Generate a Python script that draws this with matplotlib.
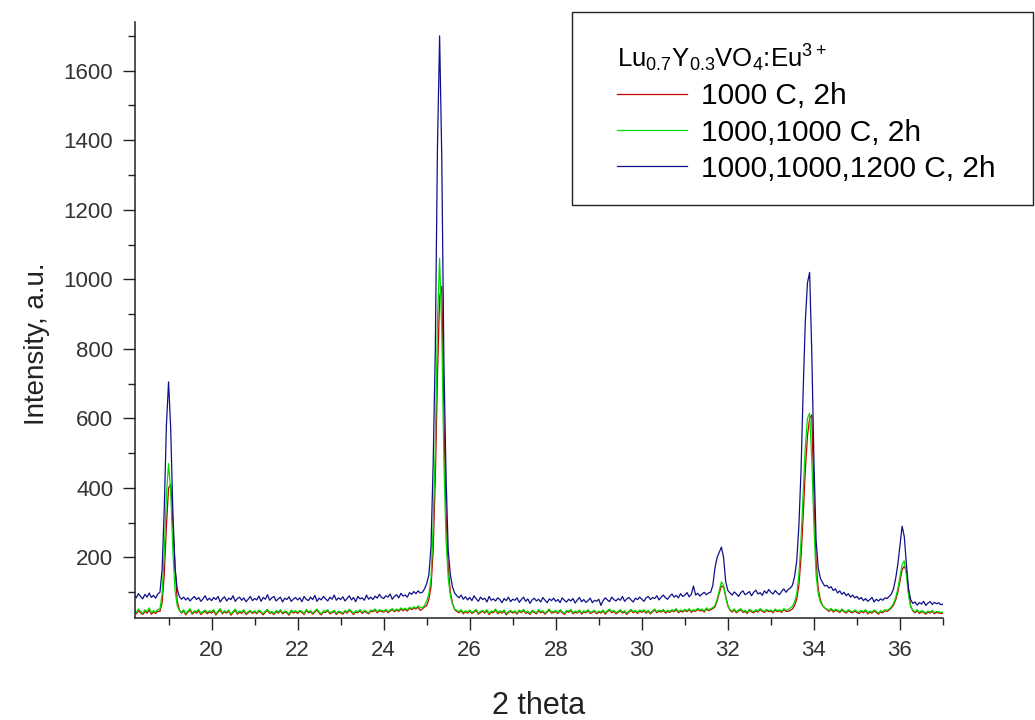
import numpy as np
import matplotlib
matplotlib.use("Agg")
import matplotlib.pyplot as plt
from matplotlib.ticker import MultipleLocator
from matplotlib.patches import Rectangle

plt.rcParams['font.family'] = ['Liberation Sans', 'DejaVu Sans']
plt.rcParams['mathtext.default'] = 'regular'

# scan grid: 18.20 .. 37.00 deg, step 0.05
two_theta = np.round(np.arange(18.20, 37.0001, 0.05), 2)

# 1000 C, 2h
i_1000 = [
    44, 38, 47, 41, 36, 45, 40, 49, 37, 43, 39, 46, 45, 70, 150, 290,
    400, 410, 300, 180, 75, 50, 40, 46, 35, 43, 49, 37, 44, 40, 47, 36, 42, 45, 38, 44,
    40, 46, 35, 43, 49, 38, 44, 40, 46, 34, 42, 48, 37, 43, 39, 47, 36, 41, 45, 39,
    44, 38, 46, 41, 35, 43, 48, 39, 42, 36, 45, 40, 47, 38, 43, 41, 34, 46, 40, 44,
    39, 45, 42, 36, 48, 41, 44, 37, 43, 49, 40, 35, 44, 42, 47, 38, 41, 45, 36, 43,
    41, 37, 45, 40, 48, 43, 36, 44, 41, 47, 39, 45, 42, 38, 46, 44, 49, 41, 47, 45,
    43, 48, 41, 46, 50, 44, 49, 45, 52, 47, 51, 46, 54, 50, 55, 52, 57, 48, 52, 58,
    62, 80, 115, 220, 430, 720, 950, 980, 600, 320, 170, 100, 68, 50, 45, 41, 47, 38, 44, 40,
    46, 39, 43, 48, 37, 42, 45, 40, 47, 36, 43, 41, 49, 38, 44, 40, 46, 35, 42, 45,
    40, 44, 37, 46, 41, 48, 39, 43, 36, 45, 42, 38, 47, 41, 44, 37, 43, 49, 40, 42,
    44, 39, 47, 41, 36, 45, 42, 48, 38, 43, 40, 46, 37, 44, 41, 47, 39, 42, 45, 38,
    43, 40, 46, 37, 44, 49, 41, 45, 38, 42, 47, 40, 44, 36, 43, 48, 41, 45, 39, 46,
    42, 47, 40, 45, 38, 44, 49, 41, 46, 43, 48, 40, 45, 42, 47, 44, 50, 41, 46, 43,
    48, 44, 50, 42, 47, 45, 51, 46, 49, 43, 52, 47, 50, 53, 58, 75, 98, 118, 115, 88,
    62, 48, 43, 49, 41, 46, 50, 42, 45, 39, 48, 44, 41, 47, 43, 50, 45, 42, 48, 44,
    46, 41, 49, 44, 47, 42, 50, 45, 45, 48, 52, 62, 80, 120, 200, 320, 450, 550, 600, 610,
    380, 190, 110, 78, 62, 55, 50, 45, 51, 43, 48, 46, 42, 49, 44, 40, 47, 43, 41, 46,
    42, 39, 45, 41, 47, 38, 43, 40, 46, 42, 37, 44, 41, 47, 45, 49, 55, 63, 78, 100,
    132, 165, 175, 160, 100, 60, 46, 41, 47, 39, 44, 42, 37, 43, 40, 45, 38, 42, 41, 39,
    40,
]

# 1000,1000 C, 2h
i_1000_1000 = [
    48, 42, 52, 45, 39, 50, 44, 55, 41, 47, 43, 51, 52, 95, 215, 380,
    470, 390, 220, 105, 62, 48, 42, 50, 38, 46, 53, 40, 47, 44, 51, 39, 45, 49, 42, 47,
    44, 50, 38, 46, 53, 41, 47, 43, 49, 37, 45, 52, 40, 46, 43, 50, 39, 44, 48, 42,
    47, 41, 49, 44, 38, 46, 51, 42, 45, 39, 48, 43, 50, 41, 46, 44, 37, 49, 43, 47,
    42, 48, 45, 39, 51, 44, 47, 40, 46, 52, 43, 38, 47, 45, 50, 41, 44, 48, 39, 46,
    44, 40, 48, 43, 51, 46, 39, 47, 44, 50, 42, 48, 45, 41, 49, 47, 52, 44, 50, 48,
    46, 51, 44, 49, 53, 47, 52, 48, 55, 50, 54, 49, 57, 53, 58, 55, 60, 57, 55, 62,
    75, 95, 140, 290, 520, 880, 1060, 850, 470, 250, 140, 90, 65, 52, 48, 44, 50, 41, 47, 43,
    49, 42, 46, 51, 40, 45, 48, 43, 50, 39, 46, 44, 52, 41, 47, 43, 49, 38, 45, 48,
    43, 47, 40, 49, 44, 51, 42, 46, 39, 48, 45, 41, 50, 44, 47, 40, 46, 52, 43, 45,
    47, 42, 50, 44, 39, 48, 45, 51, 41, 46, 43, 49, 40, 47, 44, 50, 42, 45, 48, 41,
    46, 43, 49, 40, 47, 52, 44, 48, 41, 45, 50, 43, 47, 39, 46, 51, 44, 48, 42, 49,
    45, 50, 43, 48, 41, 47, 52, 44, 49, 46, 51, 43, 48, 45, 50, 47, 53, 44, 49, 46,
    51, 47, 53, 45, 50, 48, 54, 49, 52, 46, 55, 50, 53, 56, 62, 80, 105, 130, 120, 85,
    60, 50, 46, 52, 44, 49, 53, 45, 48, 42, 51, 47, 44, 50, 46, 53, 48, 45, 51, 47,
    49, 44, 52, 47, 50, 45, 53, 48, 50, 55, 60, 72, 95, 150, 250, 390, 520, 600, 615, 480,
    290, 150, 95, 72, 62, 55, 52, 48, 54, 46, 51, 49, 45, 52, 47, 43, 50, 46, 44, 49,
    45, 42, 48, 44, 50, 41, 46, 43, 49, 45, 40, 47, 44, 50, 48, 52, 58, 68, 85, 110,
    145, 180, 190, 150, 90, 58, 48, 44, 50, 42, 47, 45, 40, 46, 43, 48, 41, 45, 44, 42,
    43,
]

# 1000,1000,1200 C, 2h
i_1000_1000_1200 = [
    92, 84, 96, 88, 81, 94, 86, 98, 85, 91, 83, 95, 100, 165, 340, 580,
    705, 570, 330, 170, 110, 88, 80, 86, 78, 84, 75, 82, 88, 79, 85, 74, 81, 90, 77, 83,
    76, 85, 79, 88, 72, 81, 87, 75, 83, 79, 90, 74, 82, 86, 77, 84, 73, 80, 88, 76,
    82, 78, 89, 74, 85, 80, 93, 77, 84, 88, 75, 81, 86, 72, 83, 79, 87, 74, 80, 85,
    78, 84, 73, 88, 80, 76, 86, 79, 91, 74, 83, 78, 88, 81, 75, 86, 80, 92, 77, 84,
    79, 87, 75, 82, 90, 78, 85, 73, 88, 81, 84, 77, 92, 80, 86, 79, 89, 83, 94, 85,
    82, 90, 86, 95, 80, 88, 93, 84, 97, 89, 92, 86, 99, 94, 102, 96, 104, 98, 100, 110,
    125, 150, 230, 470, 800, 1380, 1700, 1350, 760, 430, 220, 150, 115, 98, 90, 84, 92, 80, 87, 78,
    85, 76, 90, 81, 74, 86, 79, 83, 72, 88, 77, 81, 75, 84, 79, 70, 82, 76, 86, 73,
    80, 77, 84, 71, 79, 86, 74, 81, 68, 78, 83, 75, 80, 72, 85, 77, 70, 81, 76, 83,
    74, 79, 70, 84, 77, 72, 80, 75, 82, 69, 78, 85, 73, 79, 71, 76, 83, 70, 77, 74,
    80, 62, 76, 84, 78, 73, 86, 79, 75, 82, 77, 88, 74, 81, 85, 78, 72, 83, 79, 86,
    80, 74, 84, 88, 79, 85, 82, 90, 78, 86, 92, 84, 80, 89, 95, 86, 91, 84, 96, 88,
    92, 99, 87, 94, 118, 92, 97, 89, 95, 100, 93, 98, 100, 120, 170, 200, 215, 230, 200, 130,
    105, 98, 92, 101, 95, 88, 99, 104, 93, 97, 102, 90, 100, 106, 95, 99, 91, 104, 97, 108,
    100, 95, 105, 98, 93, 103, 110, 100, 108, 112, 120, 145, 190, 290, 450, 680, 880, 990, 1020, 790,
    480, 250, 170, 140, 128, 118, 120, 112, 116, 105, 110, 98, 104, 94, 100, 90, 96, 86, 92, 84,
    88, 80, 85, 76, 82, 74, 79, 85, 72, 80, 75, 81, 77, 84, 82, 88, 95, 110, 140, 180,
    235, 290, 260, 180, 110, 78, 68, 72, 63, 70, 66, 74, 62, 69, 73, 65, 71, 67, 70, 64,
    66,
]

labels = ['1000 C, 2h', '1000,1000 C, 2h', '1000,1000,1200 C, 2h']
colors = ['#c00000', '#00dd00', '#10108a']
legend_title = 'Lu$_{0.7}$Y$_{0.3}$VO$_{4}$:Eu$^{3+}$'

W, H = 1035, 720
fig = plt.figure(figsize=(W / 100, H / 100), dpi=100)
ax = fig.add_axes([135 / W, 1 - 618 / H, 808 / W, 596 / H])

lines = []
for y, lab, c in zip([i_1000, i_1000_1000, i_1000_1000_1200], labels, colors):
    lines += ax.plot(two_theta, y, color=c, lw=0.9, label=lab)

ax.set_xlim(18.22, 37.0)
ax.set_ylim(26, 1740)
ax.xaxis.set_major_locator(MultipleLocator(2))
ax.xaxis.set_minor_locator(MultipleLocator(1))
ax.yaxis.set_minor_locator(MultipleLocator(100))
ax.set_yticks([200, 400, 600, 800, 1000, 1200, 1400, 1600])

for s in ['top', 'right']:
    ax.spines[s].set_visible(False)
for s in ['left', 'bottom']:
    ax.spines[s].set_linewidth(1.1)
    ax.spines[s].set_color('#222222')

ax.tick_params(which='major', direction='out', length=8.6, width=1.0,
               labelsize=16, pad=7, colors='#222222', labelcolor='#333333')
ax.tick_params(which='minor', direction='out', length=4.8, width=1.0,
               colors='#222222')

ax.set_xlabel('2 theta', fontsize=22, color='#222222', labelpad=22)
ax.set_ylabel('Intensity, a.u.', fontsize=20, color='#222222', labelpad=8)
ax.yaxis.set_label_coords(-0.105, 0.46)

# legend box is a plain frame; entries sit inside it
frame = Rectangle((572 / W, 1 - 205 / H), 461 / W, 193 / H, transform=fig.transFigure,
                  facecolor='white', edgecolor='#222222', lw=1.0, zorder=3)
fig.patches.append(frame)
leg = fig.legend(lines, labels, loc='upper left', bbox_to_anchor=(617 / W, 1 - 43 / H),
                 borderaxespad=0, borderpad=0,
                 title=legend_title, alignment='left', fontsize=21.5,
                 title_fontsize=18.5, handlelength=2.35, handletextpad=0.45,
                 labelspacing=0.27, frameon=False)
leg.set_zorder(4)

fig.savefig('out.png', dpi=100)
